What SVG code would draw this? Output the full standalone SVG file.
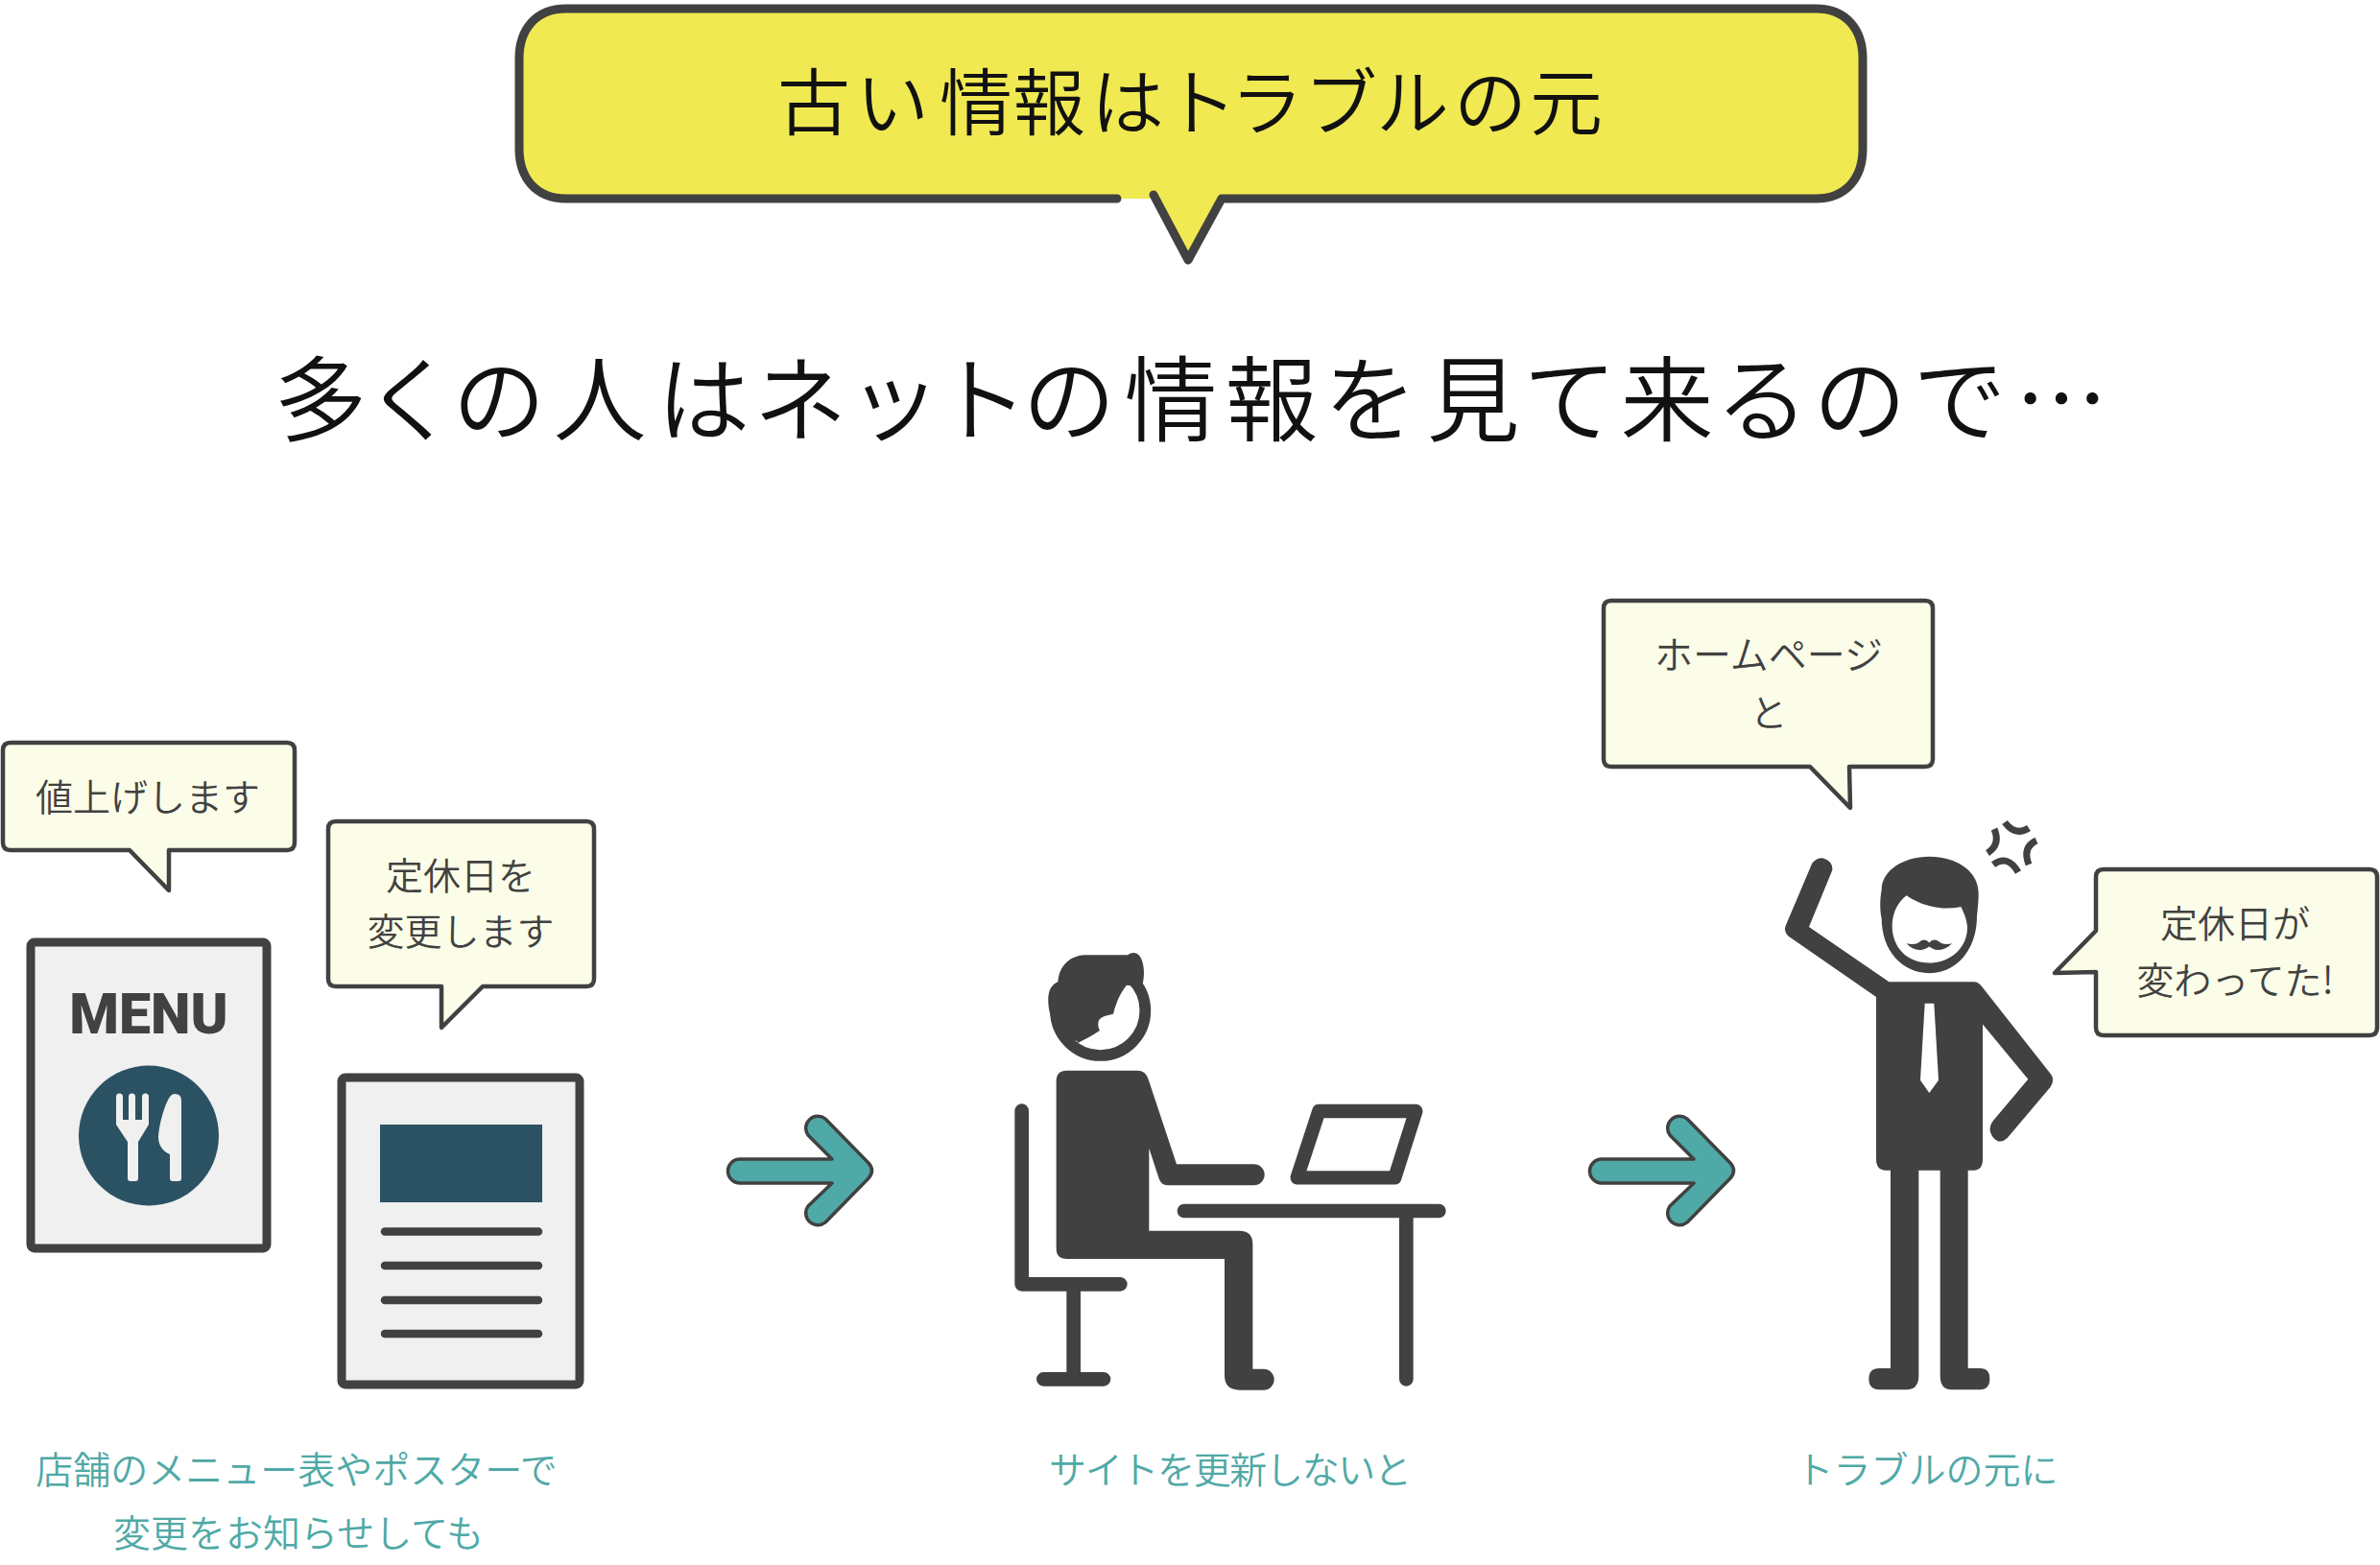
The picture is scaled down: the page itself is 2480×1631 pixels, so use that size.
<svg xmlns="http://www.w3.org/2000/svg" width="2480" height="1631" viewBox="0 0 2480 1631">
<style>
text{font-family:"Noto Sans CJK JP","Noto Sans",sans-serif;font-weight:350;text-anchor:middle}
.b{fill:#fbfde8;stroke:#414141;stroke-width:4.5;stroke-linejoin:round;stroke-linecap:round}
.s{font-size:39px;fill:#414141}
.c{font-size:39px;fill:#4fa9a6}
.k{fill:#414141}
.l{fill:none;stroke:#414141;stroke-linecap:round;stroke-linejoin:round}
.p{fill:#f0f0f0;stroke:#414141;stroke-width:9;stroke-linejoin:round}
.r{stroke:#414141;stroke-width:8.5;stroke-linecap:round}
.a{fill:#4fa9a6;stroke:#414141;stroke-width:3.5;stroke-linejoin:round}
.m{fill:none;stroke:#414141;stroke-width:7}
</style>
<rect width="2480" height="1631" fill="#fff"/>
<g id="title">
<path d="M1167 207H590C558 207 541 185 541 155V61C541 31 558 9 590 9H1892C1924 9 1941 31 1941 61V155C1941 185 1924 207 1892 207H1270L1238 272L1202 207" fill="#f0e952"/>
<path d="M1164 207H590C558 207 541 185 541 155V61C541 31 558 9 590 9H1892C1924 9 1941 31 1941 61V155C1941 185 1924 207 1892 207H1273L1238 271L1202 203" fill="none" stroke="#414141" stroke-width="9" stroke-linecap="round" stroke-linejoin="round"/>
<text x="848 930 1017 1093 1175 1251 1320 1397 1472 1553 1632" y="135" font-size="76" fill="#111">古い情報はトラブルの元</text>
</g>
<text id="heading" x="334 428 520 625 733 834 932 1023 1114 1220 1325 1428 1535 1636 1737 1836 1938 2042 2148" y="452" font-size="97" fill="#111">多くの人はネットの情報を見て来るので…</text>
<g id="bubble-price">
<path class="b" d="M11 774H299Q307 774 307 782V878Q307 886 299 886H176L176 928L135 886H11Q3 886 3 878V782Q3 774 11 774Z"/>
<text class="s" x="154" y="845">値上げします</text>
</g>
<g id="bubble-holiday">
<path class="b" d="M350 856H611Q619 856 619 864V1020Q619 1028 611 1028H503L460 1071L460 1028H350Q342 1028 342 1020V864Q342 856 350 856Z"/>
<text class="s" x="480" y="927">定休日を</text>
<text class="s" x="480" y="985">変更します</text>
</g>
<g id="menu">
<rect class="p" x="32" y="982" width="246" height="319" rx="4"/>
<text x="155" y="1077" font-size="59" style="font-family:Roboto,'Noto Sans',sans-serif;font-weight:900" fill="#414141">MENU</text>
<circle cx="155" cy="1183.5" r="73" fill="#2b5263"/>
<path fill="#f0f0f0" d="M121 1143a3.5 3.5 0 0 1 7 0V1167h6V1143a3.5 3.5 0 0 1 7 0V1167h7V1143a3.5 3.5 0 0 1 7 0V1172L144 1190V1228Q144 1231 141 1231H136Q133 1231 133 1228V1190L121 1172Z"/>
<path fill="#f0f0f0" d="M177 1203C170 1200 165 1194 165 1185C166 1170 172 1150 177 1143Q179 1140 182 1140Q189 1140 189 1147V1228Q189 1231 186 1231H180Q177 1231 177 1228Z"/>
</g>
<g id="poster">
<rect class="p" x="356" y="1123" width="248" height="320" rx="4"/>
<rect x="396" y="1172" width="169" height="81" fill="#2b5263"/>
<path class="r" d="M401 1283.5H561M401 1319H561M401 1355H561M401 1390H561"/>
</g>
<g id="connectors">
<path id="arrow-1" class="a" d="M771 1208H867L842 1183A12.5 12.5 0 0 1 860 1166L905 1212Q912 1220 905 1228L860 1274A12.5 12.5 0 0 1 842 1257L867 1233H771A12.5 12.5 0 0 1 771 1208Z"/>
<path id="arrow-2" class="a" transform="translate(898 0)" d="M771 1208H867L842 1183A12.5 12.5 0 0 1 860 1166L905 1212Q912 1220 905 1228L860 1274A12.5 12.5 0 0 1 842 1257L867 1233H771A12.5 12.5 0 0 1 771 1208Z"/>
</g>
<g id="person-desk" transform="translate(1040 970) scale(.33333)">
<circle cx="320" cy="250" r="140" fill="#fff" stroke="#414141" stroke-width="35"/>
<path class="k" d="M248 345C200 340 160 290 157 225C155 190 165 170 187 160C190 110 225 78 270 76L405 76Q420 65 435 72C455 85 462 130 450 175L402 170C385 190 370 220 360 260C345 265 325 265 315 280C310 295 315 305 318 312C295 328 270 340 248 352Z"/>
<path class="k" d="M215 437H435Q462 437 470 465L558 730H800a33 33 0 0 1 0 66H530Q510 796 503 775L472 680V938H755Q796 938 796 980V1370H830a33 33 0 0 1 0 66H755Q708 1436 708 1390V1026H215Q182 1026 182 993V470Q182 437 215 437Z"/>
<path class="l" stroke-width="44" d="M74 563V1105H382M236 1105V1402M142 1402H330M582 876H1378M1276 876V1402"/>
<path class="l" stroke-width="43" d="M1003 564H1306L1240 772H935Z"/>
</g>
<g id="person-angry">
<path class="m" d="M2089 857Q2100 872 2114 863M2078 864Q2085 880 2071 889M2122 876Q2107 883 2114 901M2077 901Q2092 890 2103 909"/>
<g transform="translate(1830 860) scale(.33333 .39528)">
<path class="k" d="M392 170C392 120 460 83 541 83C625 83 695 120 695 180C695 200 693 215 690 240C690 330 625 390 541 390C455 390 392 330 392 245C388 235 385 200 392 170Z"/>
<path fill="#fff" d="M470 185C520 215 590 225 640 215C652 235 660 255 660 270C660 325 605 363 541 363C475 363 425 325 425 265C425 230 445 200 470 185Z"/>
<path class="k" d="M470 312Q500 318 515 305Q530 298 541 310Q552 298 568 305Q585 318 612 312Q590 332 560 328Q548 325 541 320Q534 325 520 328Q490 332 470 312Z"/>
<path class="k" d="M175 100Q190 85 210 87Q240 95 238 118L165 268L415 413H680Q695 413 705 425L920 655Q935 670 920 690L785 825Q760 845 738 820Q722 800 740 780L850 670L708 525V880Q708 910 680 910H662V1432H700Q730 1432 730 1460Q730 1488 700 1488H610Q575 1488 575 1450V910H508V1450Q508 1488 470 1488H385Q352 1488 352 1460Q352 1432 385 1432H420V910H405Q375 910 375 880V453L100 292Q85 280 92 265Z"/>
<path fill="#fff" d="M527 470H556L570 672L541 706L513 672Z"/>
</g>
</g>
<g id="bubble-homepage">
<path class="b" d="M1679 626H2006Q2014 626 2014 634V791Q2014 799 2006 799H1927L1928 842L1886 799H1679Q1671 799 1671 791V634Q1671 626 1679 626Z"/>
<text class="s" x="1843" y="697" style="font-size:40px">ホームページ</text>
<text class="s" x="1843" y="757">と</text>
</g>
<g id="bubble-changed">
<path class="b" d="M2192 906H2469Q2477 906 2477 914V1071Q2477 1079 2469 1079H2192Q2184 1079 2184 1071V1013L2141 1014L2184 970V914Q2184 906 2192 906Z"/>
<text class="s" x="2329" y="977">定休日が</text>
<text class="s" x="2329" y="1036">変わってた!</text>
</g>
<g id="captions">
<text class="c" x="309" y="1546">店舗のメニュー表やポスターで</text>
<text class="c" x="311" y="1612">変更をお知らせしても</text>
<text class="c" x="1282" y="1546" textLength="378">サイトを更新しないと</text>
<text class="c" x="2008" y="1546">トラブルの元に</text>
</g>
</svg>
